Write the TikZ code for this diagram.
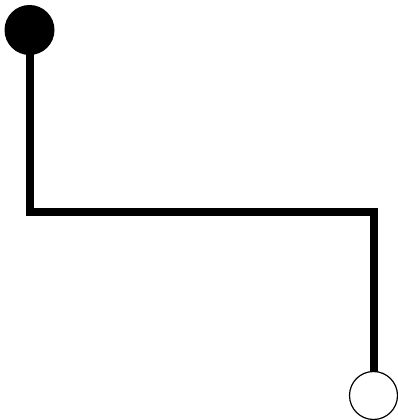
\documentclass[tikz,border=0pt]{standalone}
\usetikzlibrary{backgrounds}
\begin{document}
\begin{tikzpicture}[x=1pt,y=1pt,
  startdot/.style={circle,fill=black,inner sep=0pt,minimum size=50pt},
  enddot/.style={circle,draw=black,fill=white,line width=1.2pt,inner sep=0pt,minimum size=48pt},
  wire/.style={line width=8pt,line join=miter}]
\useasboundingbox (0,0) rectangle (398,420);
\node[startdot] (a) at (29.5,390) {};
\node[enddot] (b) at (373.5,24.5) {};
\coordinate (c1) at (29.5,208);
\coordinate (c2) at (373.5,208);
\begin{scope}[on background layer]
\draw[wire] (a.center) -- (c1) -- (c2) -- (b.center);
\end{scope}
\end{tikzpicture}
\end{document}
